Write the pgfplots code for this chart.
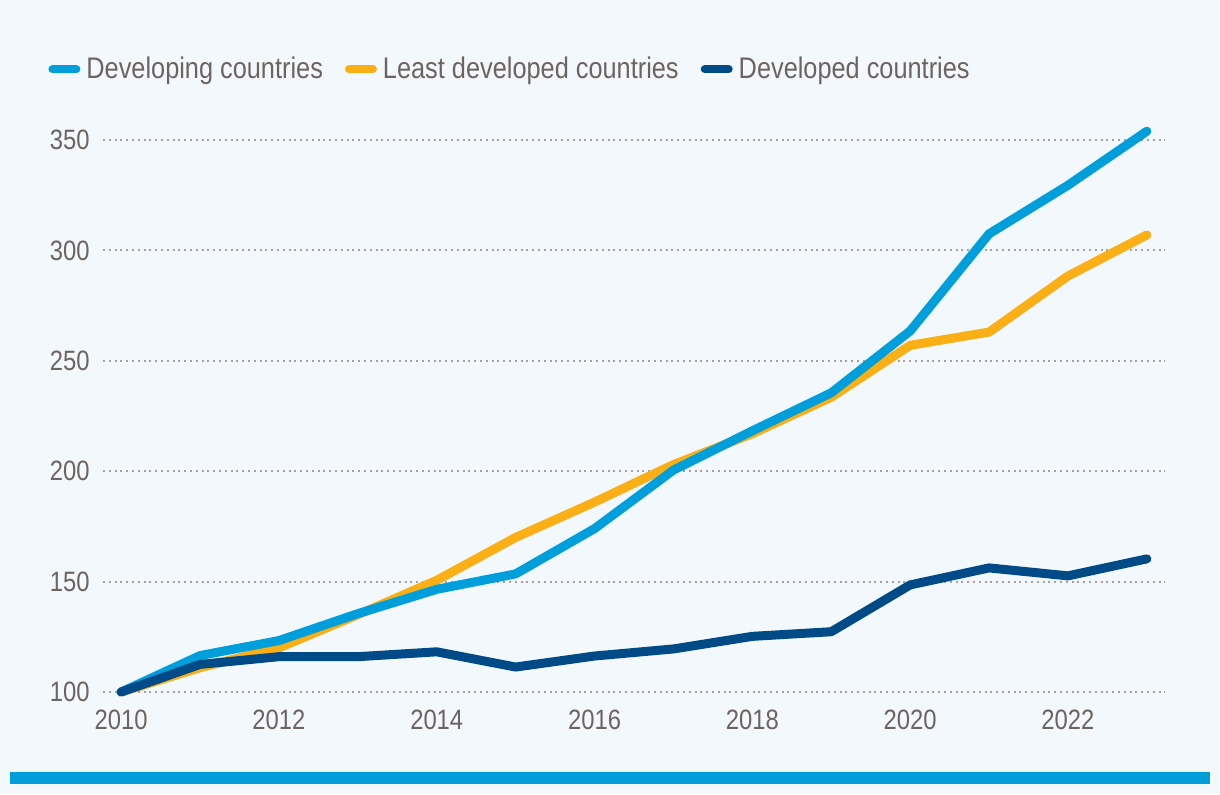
\documentclass[border=0pt]{standalone}
\usepackage{pgfplots}
\pgfplotsset{compat=1.18}
\usepackage{fontspec}
\setmainfont{Liberation Sans}[FakeStretch=0.85]
\definecolor{bgc}{HTML}{F3F8FC}
\definecolor{cblue}{HTML}{009EDB}
\definecolor{corange}{HTML}{FBAF17}
\definecolor{cdark}{HTML}{004A87}
\definecolor{ctext}{HTML}{6E645F}
\definecolor{cgrid}{HTML}{A69F9A}
\begin{document}
\fontsize{14}{16}\selectfont
\begin{tikzpicture}
\fill[bgc] (0,0) rectangle (610pt,397pt);
\useasboundingbox (0,0) rectangle (610pt,397pt);
\fill[cblue] (5pt,5pt) rectangle (605pt,11pt);
\begin{axis}[
  at={(51.5pt,51pt)}, anchor=south west,
  scale only axis, width=531pt, height=276pt,
  xmin=2009.77, xmax=2023.23, ymin=100, ymax=350,
  clip=false,
  axis line style={draw=none},
  major tick length=0pt,
  xtick={2010,2012,...,2022},
  ytick={100,150,...,350},
  ymajorgrids,
  grid style={cgrid, line width=1pt, dash pattern=on 1pt off 1.9pt},
  /pgf/number format/1000 sep={},
  /pgf/number format/assume math mode=true,
  ticklabel style={font=\fontsize{14}{16}\selectfont, text=ctext},
  yticklabel style={inner sep=0pt, xshift=-6.5pt},
  xticklabel style={inner sep=0pt, yshift=-9pt},
  legend style={at={(-0.0574,1.128)}, anchor=west, draw=none, fill=none,
    legend columns=-1, font=\fontsize{14.9}{16}\selectfont, text=ctext,
    /tikz/every odd column/.append style={column sep=3pt},
    /tikz/every even column/.append style={column sep=11pt},
    nodes={inner xsep=0pt}},
  legend cell align=left,
  legend image code/.code={\draw[#1, line width=4pt, line cap=round] (2pt,0pt) -- (14pt,0pt);},
  every axis plot/.append style={line width=4.5pt, line cap=round, line join=round, mark=none},
]
\addlegendimage{cblue}
\addlegendentry{Developing countries}
\addlegendimage{corange}
\addlegendentry{Least developed countries}
\addlegendimage{cdark}
\addlegendentry{Developed countries}

\addplot[corange, forget plot] coordinates {
(2010,100) (2011,111) (2012,120) (2013,135) (2014,150.6) (2015,170) (2016,186) (2017,203)
(2018,217) (2019,233.5) (2020,257) (2021,263) (2022,288.4) (2023,307)};
\addplot[cblue, forget plot] coordinates {
(2010,100) (2011,116.5) (2012,123.3) (2013,135.5) (2014,146.5) (2015,153.5) (2016,174) (2017,200.5)
(2018,218.3) (2019,235.5) (2020,263.5) (2021,307.5) (2022,329.5) (2023,354)};
\addplot[cdark, forget plot] coordinates {
(2010,100) (2011,112.5) (2012,116) (2013,116) (2014,118.2) (2015,111.3) (2016,116.3) (2017,119.5)
(2018,125.2) (2019,127.3) (2020,148.5) (2021,156.2) (2022,152.6) (2023,160.3)};
\end{axis}
\end{tikzpicture}
\end{document}
